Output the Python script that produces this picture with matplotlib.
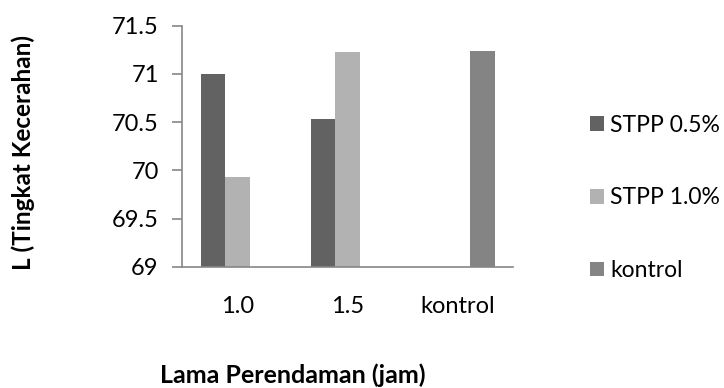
import numpy as np
import matplotlib
matplotlib.use("Agg")
import matplotlib.pyplot as plt
from matplotlib.patches import Patch

plt.rcParams['font.family'] = ['Lato', 'DejaVu Sans']

# Data
categories = ["1.0", "1.5", "kontrol"]
series_names = ["STPP 0.5%", "STPP 1.0%", "kontrol"]
stpp_05 = [71.00, 70.53, np.nan]
stpp_10 = [69.93, 71.23, np.nan]
kontrol = [np.nan, np.nan, 71.24]
y_ticks = [69, 69.5, 70, 70.5, 71, 71.5]
y_tick_labels = ["69", "69.5", "70", "70.5", "71", "71.5"]

colors = ["#626262", "#b2b2b2", "#848484"]
axis_color = "#868686"

W, H = 724, 388
fig = plt.figure(figsize=(W / 100, H / 100), dpi=100)
ax = fig.add_axes([182.3 / W, 1 - 266.7 / H, (513 - 182.3) / W, (266.7 - 25.7) / H])

x = np.arange(len(categories))
n = 3
gap = 1.5
width = 1.0 / (n + gap)
offsets = (np.arange(n) - (n - 1) / 2) * width

for vals, name, col, off in zip([stpp_05, stpp_10, kontrol], series_names, colors, offsets):
    vals = np.asarray(vals, dtype=float)
    m = ~np.isnan(vals)
    ax.bar(x[m] + off, vals[m], width=width, color=col, label=name, linewidth=0)

ax.set_xlim(-0.5, len(categories) - 0.5)
ax.set_ylim(69, 71.5)
ax.set_yticks(y_ticks)
ax.set_yticklabels(y_tick_labels)
ax.set_xticks(x)
ax.set_xticklabels(categories)

for s in ["top", "right"]:
    ax.spines[s].set_visible(False)
for s in ["left", "bottom"]:
    ax.spines[s].set_color(axis_color)
    ax.spines[s].set_linewidth(1.2)

ax.tick_params(axis="y", direction="out", length=7, width=1.2, color=axis_color,
               pad=10, labelsize=17, labelcolor="black")
ax.tick_params(axis="x", length=0, pad=21, labelsize=17, labelcolor="black")

fig.text(23 / W, 1 - 153 / H, "L (Tingkat Kecerahan)", rotation=90, ha="center", va="center",
         fontsize=17.5, fontweight="bold")
fig.text(293 / W, 1 - 375 / H, "Lama Perendaman (jam)", ha="center", va="center",
         fontsize=18, fontweight="bold")

handles = [Patch(facecolor=c, edgecolor="none") for c in colors]
fig.legend(handles, series_names, loc="center left", bbox_to_anchor=(590 / W, 1 - 198 / H),
           frameon=False, fontsize=16.5, handlelength=0.62, handleheight=0.62,
           handletextpad=0.25, labelspacing=2.25, borderpad=0, borderaxespad=0)

fig.savefig("out.png", dpi=100)
